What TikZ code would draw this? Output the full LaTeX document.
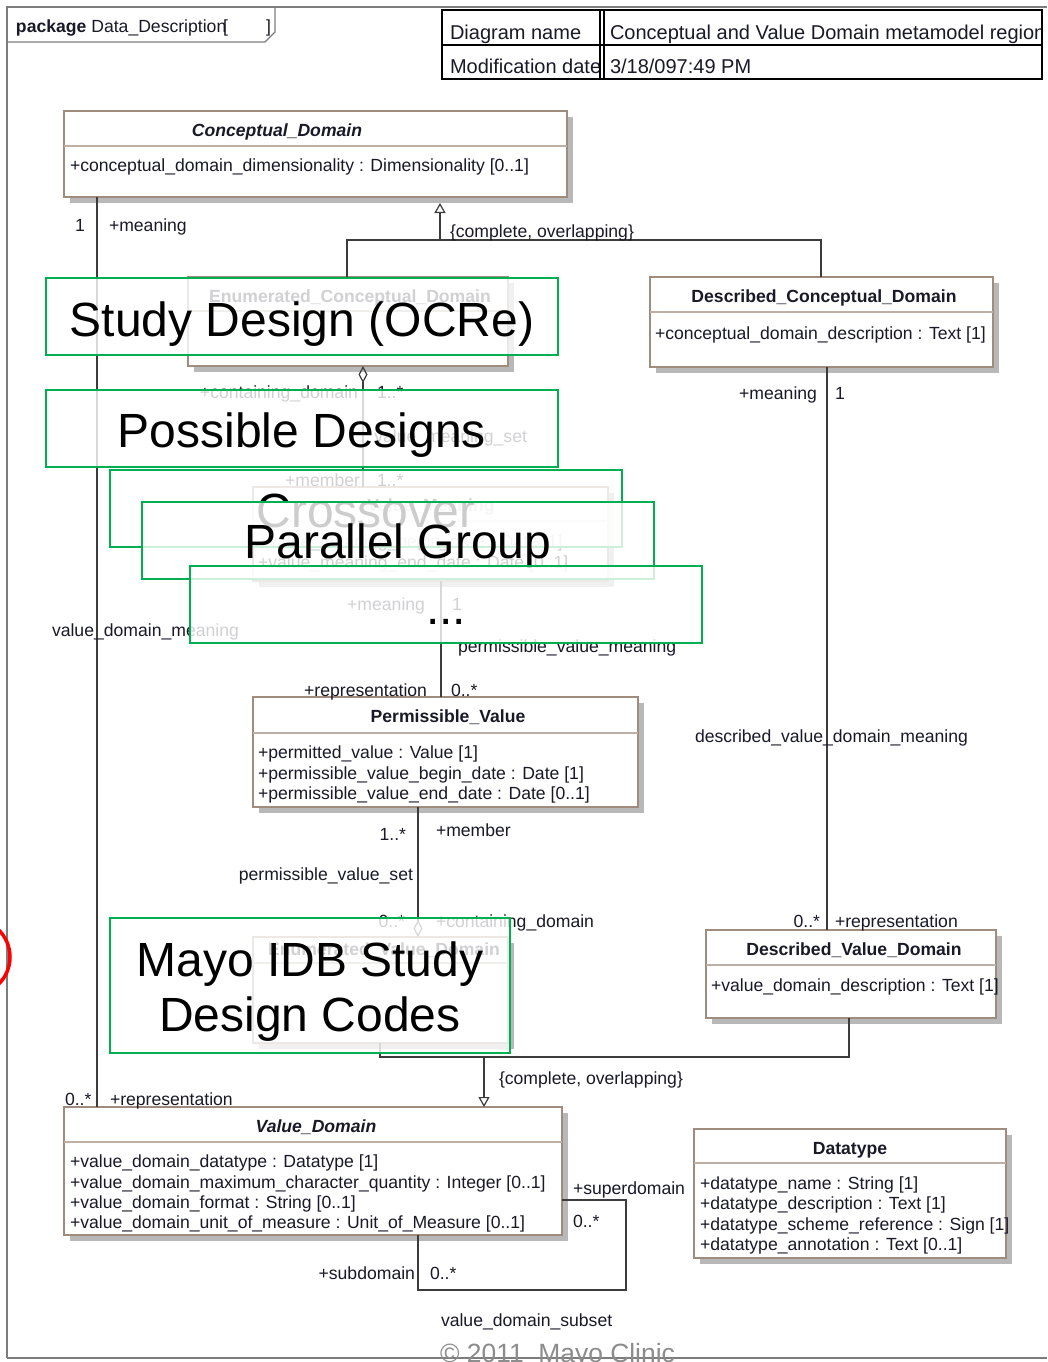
\documentclass[tikz,border=0pt]{standalone}
\usepackage{fontspec}
\setmainfont{Liberation Sans}
\usetikzlibrary{arrows.meta,shadows}
\definecolor{umlb}{RGB}{160,140,125}
\definecolor{grn}{RGB}{0,176,80}
\definecolor{connc}{RGB}{60,60,60}
\definecolor{framec}{RGB}{125,125,125}
\definecolor{txt}{RGB}{25,25,40}
\begin{document}
\begin{tikzpicture}[x=1pt,y=-1pt,
  lbl/.style={inner sep=0pt, outer sep=0pt, text=txt, font=\fontsize{17.6}{20.5}\selectfont, text height=14.7pt, text depth=1.7pt},
  ttl/.style={lbl, font=\fontsize{17.6}{20.5}\selectfont\bfseries},
  ttli/.style={lbl, font=\fontsize{17.6}{20.5}\selectfont\bfseries\itshape},
  tbl/.style={inner sep=0pt, outer sep=0pt, anchor=west, text=txt, font=\fontsize{20}{23}\selectfont, text height=16.5pt, text depth=2.2pt},
  uml/.style={draw=umlb, line width=1.3pt, fill=white, inner sep=0pt, outer sep=0pt, drop shadow={shadow xshift=6pt, shadow yshift=-6pt, fill=black!28, opacity=1}},
  divl/.style={draw=umlb!70, line width=2pt},
  conn/.style={draw=connc, line width=1.2pt},
  gen/.style={conn, -{Triangle[open, length=10pt, width=11pt]}},
  agg/.style={conn, {Diamond[open, length=17pt, width=9pt]}-},
  gbox/.style={draw=grn, line width=2pt, fill=white, fill opacity=0.8, inner sep=0pt, outer sep=0pt},
  big/.style={inner sep=0pt, anchor=base, font=\fontsize{48}{55}\selectfont, text=black},
  ]
\clip (0,0) rectangle (1047,1362);
\fill[white] (0,0) rectangle (1047,1362);

% package frame
\draw[framec, line width=1.5pt] (7,1358) -- (7,7) -- (1047,7);
\draw[framec, line width=1.5pt] (7,1358) -- (1047,1358);
\draw[framec, line width=1.2pt] (7,42) -- (265,42) -- (275,32) -- (275,7);
\node[lbl, anchor=west] (pkg) at (16,26) {\textbf{package} Data\_Description};
\node[lbl, anchor=west] (pkgo) at (223,26) {[};
\node[lbl, anchor=west] (pkgc) at (266,26) {]};

% info table
\begin{scope}
\clip (442,9) rectangle (1042,80);
\node[tbl] (t1) at (450,32) {Diagram name};
\node[tbl] (t2) at (450,66) {Modification date};
\node[tbl] (t3) at (610,32) {Conceptual and Value Domain metamodel region};
\node[tbl] (t4) at (610,66) {3/18/097:49 PM};
\end{scope}
\draw[black, line width=2.4pt] (442,10) rectangle (1042,79);
\draw[black, line width=2pt] (442,45) -- (1042,45);
\draw[black, line width=1.6pt] (600,10) -- (600,79);
\draw[black, line width=1.6pt] (604,10) -- (604,79);

% UML boxes
\node[uml, minimum width=503pt, minimum height=86pt] (cd) at (315.5,154) {};
\draw[divl] (64,146) -- (567,146);
\node[uml, minimum width=320pt, minimum height=89pt] (ecd) at (348,321.5) {};
\draw[divl] (188,311) -- (508,311);
\node[uml, minimum width=343pt, minimum height=90pt] (dcd) at (821.5,322) {};
\draw[divl] (650,312) -- (993,312);
\node[uml, minimum width=355pt, minimum height=94pt] (vm) at (430.5,534) {};
\draw[divl] (253,521) -- (608,521);
\node[uml, minimum width=385pt, minimum height=110pt] (pv) at (445.5,752) {};
\draw[divl] (253,733) -- (638,733);
\node[uml, minimum width=255pt, minimum height=106pt] (evd) at (380.5,990) {};
\draw[divl] (253,963) -- (508,963);
\node[uml, minimum width=290pt, minimum height=88pt] (dvd) at (851,974) {};
\draw[divl] (706,965) -- (996,965);
\node[uml, minimum width=498pt, minimum height=128pt] (vd) at (313,1171) {};
\draw[divl] (64,1142) -- (562,1142);
\node[uml, minimum width=312pt, minimum height=129pt] (dt) at (850,1193.5) {};
\draw[divl] (694,1163) -- (1006,1163);

% box texts
\node[ttli] (cdt) at (277,130) {Conceptual\_Domain};
\node[lbl, anchor=west] (cda) at (70,165) {+conceptual\_domain\_dimensionality : Dimensionality [0..1]};
\node[ttl] (ecdt) at (350,296) {Enumerated\_Conceptual\_Domain};
\node[ttl] (dcdt) at (824,296) {Described\_Conceptual\_Domain};
\node[lbl, anchor=west] (dcda) at (655,333) {+conceptual\_domain\_description : Text [1]};
\node[ttl] (vmt) at (431,505) {Value\_Meaning};
\node[lbl, anchor=west] (vma) at (258,541) {+value\_meaning\_begin\_date : Date [1]};
\node[lbl, anchor=west] (vmb) at (258,562) {+value\_meaning\_end\_date : Date [0..1]};
\node[ttl] (pvt) at (448,716) {Permissible\_Value};
\node[lbl, anchor=west] (pva) at (258,752) {+permitted\_value : Value [1]};
\node[lbl, anchor=west] (pvb) at (258,773) {+permissible\_value\_begin\_date : Date [1]};
\node[lbl, anchor=west] (pvc) at (258,793) {+permissible\_value\_end\_date : Date [0..1]};
\node[ttl] (evdt) at (384,949) {Enumerated\_Value\_Domain};
\node[ttl] (dvdt) at (854,949) {Described\_Value\_Domain};
\node[lbl, anchor=west] (dvda) at (711,985) {+value\_domain\_description : Text [1]};
\node[ttli] (vdt) at (316,1126) {Value\_Domain};
\node[lbl, anchor=west] (vda) at (70,1161) {+value\_domain\_datatype : Datatype [1]};
\node[lbl, anchor=west] (vdb) at (70,1182) {+value\_domain\_maximum\_character\_quantity : Integer [0..1]};
\node[lbl, anchor=west] (vdc) at (70,1202) {+value\_domain\_format : String [0..1]};
\node[lbl, anchor=west] (vdd) at (70,1222) {+value\_domain\_unit\_of\_measure : Unit\_of\_Measure [0..1]};
\node[ttl] (dtt) at (850,1148) {Datatype};
\node[lbl, anchor=west] (dta) at (700,1183) {+datatype\_name : String [1]};
\node[lbl, anchor=west] (dtb) at (700,1203) {+datatype\_description : Text [1]};
\node[lbl, anchor=west] (dtc) at (700,1224) {+datatype\_scheme\_reference : Sign [1]};
\node[lbl, anchor=west] (dtd) at (700,1244) {+datatype\_annotation : Text [0..1]};

% connectors
\coordinate (c97) at (97,0);
\coordinate (c347) at (347,0);
\coordinate (c821) at (821,0);
\coordinate (c363) at (363,0);
\coordinate (c441) at (441,0);
\coordinate (c418) at (418,0);
\coordinate (c827) at (827,0);
\coordinate (c380) at (380,0);
\coordinate (c849) at (849,0);
\coordinate (j1) at (440,240);
\coordinate (j2) at (484,1057);
\coordinate (sa1) at (626,1200);
\coordinate (sa2) at (418,1290);

\draw[conn] (cd.south -| c97) -- (vd.north -| c97);
\draw[conn] (ecd.north -| c347) |- (j1);
\draw[conn] (dcd.north -| c821) |- (j1);
\draw[gen, shorten >=6pt] (j1) -- (cd.south -| j1);
\draw[agg] (ecd.south -| c363) -- (vm.north -| c363);
\draw[conn] (vm.south -| c441) -- (pv.north -| c441);
\draw[agg] (evd.north -| c418) -- (pv.south -| c418);
\draw[conn] (dcd.south -| c827) -- (dvd.north -| c827);
\draw[conn] (evd.south -| c380) |- (j2);
\draw[conn] (dvd.south -| c849) |- (j2);
\draw[gen] (j2) -- (vd.north -| j2);
\draw[conn] (vd.east |- sa1) -- (sa1) |- (sa2) -- (vd.south -| sa2);

% role and multiplicity labels
\node[lbl] (m1) at (80,225) {1};
\node[lbl, anchor=west] (r1) at (109,225) {+meaning};
\node[lbl, anchor=west] (co1) at (450,231) {\{complete, overlapping\}};
\node[lbl, anchor=east] (r2) at (358,392) {+containing\_domain};
\node[lbl, anchor=west] (m2) at (377,392) {1..*};
\node[lbl, anchor=east] (a1) at (527,436) {value\_meaning\_set};
\node[lbl, anchor=east] (r3) at (360,480) {+member};
\node[lbl, anchor=west] (m3) at (377,480) {1..*};
\node[lbl, anchor=east] (r4) at (425,604) {+meaning};
\node[lbl, anchor=west] (m4) at (452,604) {1};
\node[lbl, anchor=west] (a2) at (52,630) {value\_domain\_meaning};
\node[lbl, anchor=west] (a3) at (458,646) {permissible\_value\_meaning};
\node[lbl, anchor=east] (r5) at (427,690) {+representation};
\node[lbl, anchor=west] (m5) at (451,690) {0..*};
\node[lbl, anchor=east] (m6) at (406,834) {1..*};
\node[lbl, anchor=west] (r6) at (436,830) {+member};
\node[lbl, anchor=east] (a4) at (413,874) {permissible\_value\_set};
\node[lbl, anchor=east] (m7) at (405,921) {0..*};
\node[lbl, anchor=west] (r7) at (436,921) {+containing\_domain};
\node[lbl, anchor=east] (r8) at (817,393) {+meaning};
\node[lbl, anchor=west] (m8) at (835,393) {1};
\node[lbl, anchor=west] (a5) at (695,736) {described\_value\_domain\_meaning};
\node[lbl, anchor=east] (m9) at (820,921) {0..*};
\node[lbl, anchor=west] (r9) at (835,921) {+representation};
\node[lbl, anchor=west] (co2) at (499,1078) {\{complete, overlapping\}};
\node[lbl, anchor=west] (m10) at (65,1099) {0..*};
\node[lbl, anchor=west] (r10) at (110,1099) {+representation};
\node[lbl, anchor=west] (r11) at (573,1188) {+superdomain};
\node[lbl, anchor=west] (m11) at (573,1221) {0..*};
\node[lbl, anchor=east] (r12) at (415,1273) {+subdomain};
\node[lbl, anchor=west] (m12) at (430,1273) {0..*};
\node[lbl, anchor=west] (a6) at (441,1320) {value\_domain\_subset};

% overlay boxes
\node[gbox, minimum width=512pt, minimum height=77pt] (g1) at (302,316.5) {};
\node[big] (g1t) at (302,336) {Study Design (OCRe)};
\node[gbox, minimum width=512pt, minimum height=77pt] (g2) at (302,428.5) {};
\node[big] (g2t) at (302,447) {Possible Designs};
\node[gbox, minimum width=512pt, minimum height=77pt] (g3) at (366,508.5) {};
\node[big] (g3t) at (366,527) {Crossover};
\node[gbox, minimum width=512pt, minimum height=77pt] (g4) at (398,540.5) {};
\node[big] (g4t) at (398,558) {Parallel Group};
\node[gbox, minimum width=512pt, minimum height=77pt] (g5) at (446,604.5) {};
\node[big] (g5t) at (446,624) {...};
\node[gbox, minimum width=400pt, minimum height=135pt] (g6) at (310,985.5) {};
\node[big] (g6t) at (310,976) {Mayo IDB Study};
\node[big] (g6u) at (310,1031) {Design Codes};

% annotation mark and footer
\draw[red, line width=3.5pt] (-28,957) circle[radius=38];
\node[inner sep=0pt, anchor=base west, font=\fontsize{26.4}{30}\selectfont, text=black!45] (copy) at (440,1362) {© 2011\ \ Mayo Clinic};
\end{tikzpicture}
\end{document}
